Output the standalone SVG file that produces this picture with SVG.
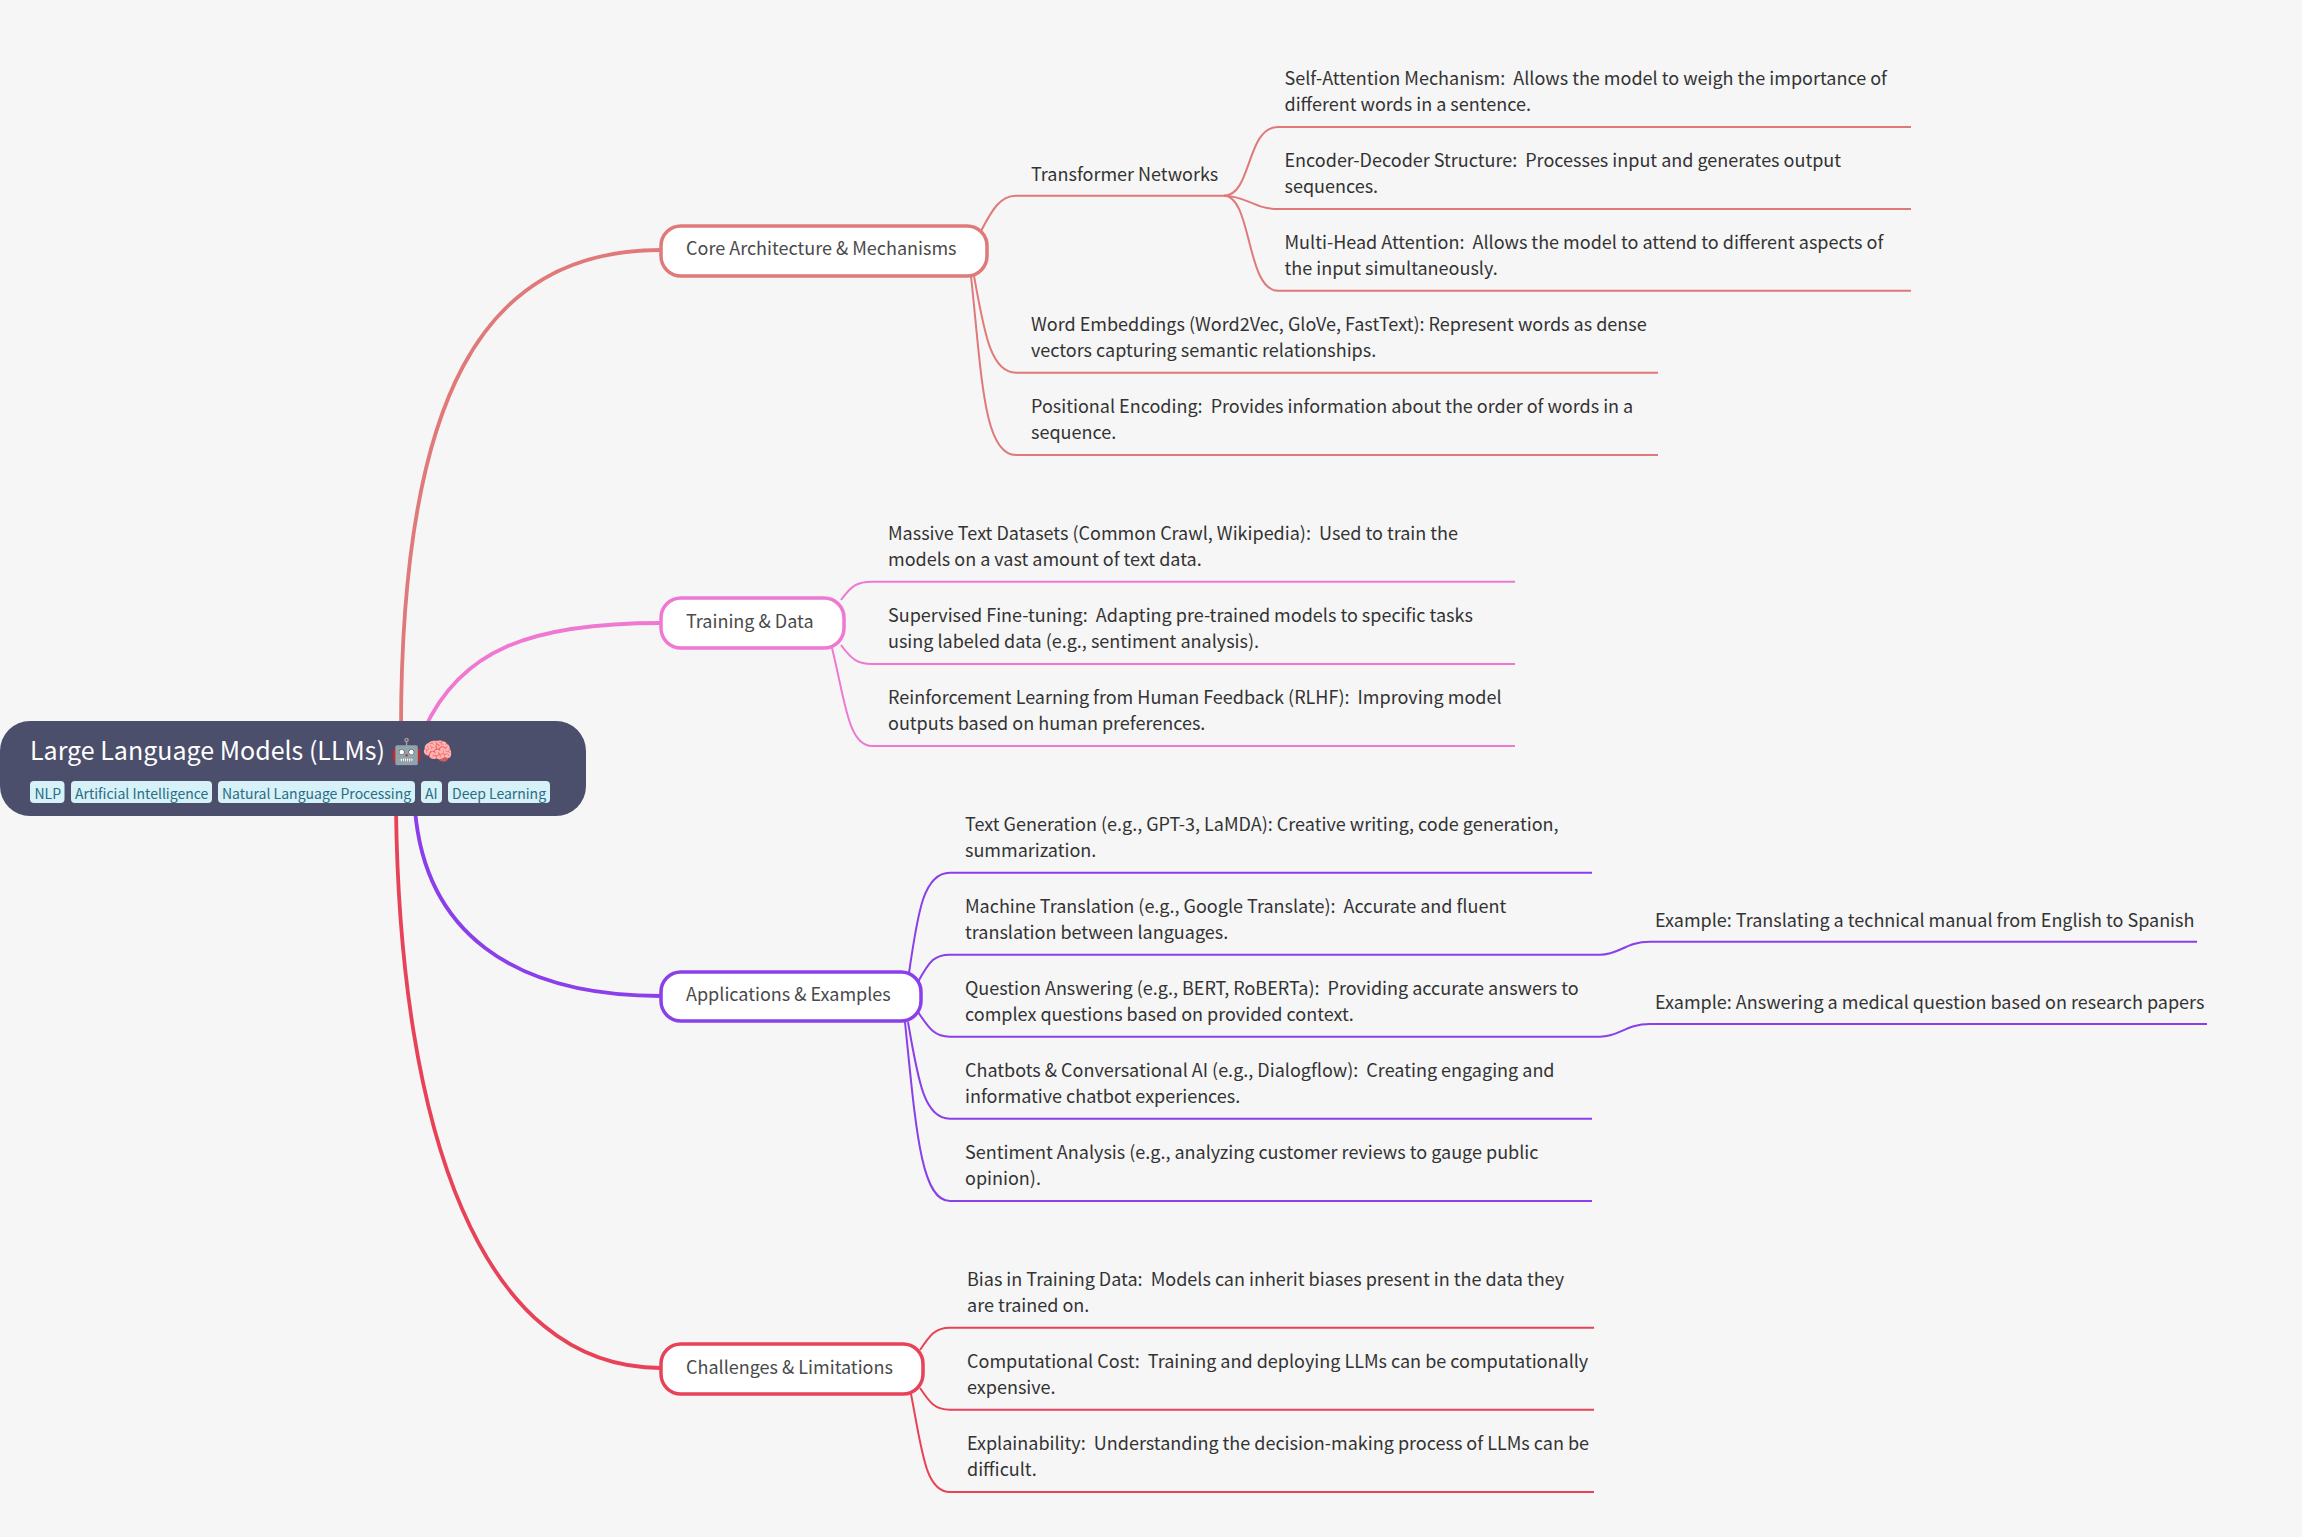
<svg xmlns="http://www.w3.org/2000/svg" width="2302" height="1537" viewBox="0 0 2302 1537">
<style>
text{font-family:"Noto Sans CJK SC","Noto Sans",sans-serif;white-space:pre}
.t{font-size:18px;fill:#333}
.b{font-size:18px;fill:#4a4a4a}
.box{fill:#fff;stroke-width:3.5}
.main{fill:none;stroke-width:3.800;stroke-linecap:round}
.sub{fill:none;stroke-width:2}
.core{stroke:#e07a7a}.train{stroke:#ee78d2}.app{stroke:#8a3fea}.chal{stroke:#e84258}
.tag{fill:#d6f1f7}
.tt{font-size:14px;fill:#2a6d85}
</style>
<rect id="background" width="2302" height="1537" fill="#f6f6f6"/>
<g id="connectors">
<path class="main core" d="M401 730C401 400 480 250 661 250"/>
<path class="main train" d="M424 730C460 650 530 623 661 623"/>
<path class="main app" d="M415 810C425 930 510 996 661 996"/>
<path class="main chal" d="M396 810C400 1130 480 1368 661 1368"/>
<path class="sub core" d="M981 231C992 210 1000 195.7 1016 195.7H1225"/>
<path class="sub core" d="M1224 195.7C1252 195.700 1246 127 1278 127H1911"/>
<path class="sub core" d="M1224 195.700C1246 195.700 1254 209 1278 209H1911"/>
<path class="sub core" d="M1224 195.700C1252 195.700 1246 290.700 1278 290.700H1911"/>
<path class="sub core" d="M974 276C984 330 990 372.700 1016 372.700H1658"/>
<path class="sub core" d="M971 276C982 380 984 455 1016 455H1658"/>
<path class="sub train" d="M841 600C852 585 858 581.700 872 581.700H1515"/>
<path class="sub train" d="M841 645C852 660 858 664 872 664H1515"/>
<path class="sub train" d="M832 648C845 700 848 746 872 746H1515"/>
<path class="sub app" d="M909 973C918 910 924 872.700 950 872.700H1592"/>
<path class="sub app" d="M918 982C930 960 935 954.700 950 954.700H1600C1620 954.700 1625 941.700 1650 941.700H2197"/>
<path class="sub app" d="M918 1012C930 1030 935 1036.700 950 1036.700H1600C1620 1036.700 1625 1024 1650 1024H2207"/>
<path class="sub app" d="M908 1022C918 1080 924 1118.700 950 1118.700H1592"/>
<path class="sub app" d="M905 1022C916 1130 921 1201 950 1201H1592"/>
<path class="sub chal" d="M920 1350C930 1335 935 1327.700 950 1327.700H1594"/>
<path class="sub chal" d="M920 1388C930 1403 935 1409.700 950 1409.700H1594"/>
<path class="sub chal" d="M911 1394C922 1450 925 1492 950 1492H1594"/>
</g>
<g id="root">
<rect x="0" y="721" width="586" height="95" rx="30" fill="#4c4f6b"/>
<text x="30" y="760" font-size="25" fill="#fff">Large Language Models (LLMs) 🤖🧠</text>
<rect class="tag" x="30" y="781" width="34.500" height="22" rx="4"/><text class="tt" x="34.500" y="799">NLP</text>
<rect class="tag" x="71" y="781" width="141" height="22" rx="4"/><text class="tt" x="75" y="799">Artificial Intelligence</text>
<rect class="tag" x="218" y="781" width="197" height="22" rx="4"/><text class="tt" x="222" y="799">Natural Language Processing</text>
<rect class="tag" x="421" y="781" width="21" height="22" rx="4"/><text class="tt" x="425" y="799">AI</text>
<rect class="tag" x="448" y="781" width="102" height="22" rx="4"/><text class="tt" x="452" y="799">Deep Learning</text>
</g>
<g id="core"><rect class="box core" x="661" y="226" width="326" height="50" rx="20"/><text class="b" x="686" y="255">Core Architecture &amp; Mechanisms</text></g>
<g id="transformer"><text class="t" x="1031" y="181">Transformer Networks</text></g>
<g id="self-attention"><text class="t" x="1284.500" y="85">Self-Attention Mechanism:  Allows the model to weigh the importance of</text><text class="t" x="1284.500" y="111">different words in a sentence.</text></g>
<g id="encoder-decoder"><text class="t" x="1284.500" y="167">Encoder-Decoder Structure:  Processes input and generates output</text><text class="t" x="1284.500" y="193">sequences.</text></g>
<g id="multi-head"><text class="t" x="1284.500" y="249">Multi-Head Attention:  Allows the model to attend to different aspects of</text><text class="t" x="1284.500" y="275">the input simultaneously.</text></g>
<g id="word-embeddings"><text class="t" x="1031" y="331">Word Embeddings (Word2Vec, GloVe, FastText): Represent words as dense</text><text class="t" x="1031" y="357">vectors capturing semantic relationships.</text></g>
<g id="positional"><text class="t" x="1031" y="413">Positional Encoding:  Provides information about the order of words in a</text><text class="t" x="1031" y="439">sequence.</text></g>
<g id="training"><rect class="box train" x="661" y="598" width="183" height="50" rx="20"/><text class="b" x="686" y="628">Training &amp; Data</text></g>
<g id="datasets"><text class="t" x="888" y="540">Massive Text Datasets (Common Crawl, Wikipedia):  Used to train the</text><text class="t" x="888" y="566">models on a vast amount of text data.</text></g>
<g id="fine-tuning"><text class="t" x="888" y="622">Supervised Fine-tuning:  Adapting pre-trained models to specific tasks</text><text class="t" x="888" y="648">using labeled data (e.g., sentiment analysis).</text></g>
<g id="rlhf"><text class="t" x="888" y="704">Reinforcement Learning from Human Feedback (RLHF):  Improving model</text><text class="t" x="888" y="730">outputs based on human preferences.</text></g>
<g id="applications"><rect class="box app" x="661" y="972" width="260" height="49" rx="20"/><text class="b" x="686" y="1001">Applications &amp; Examples</text></g>
<g id="text-generation"><text class="t" x="965" y="831">Text Generation (e.g., GPT-3, LaMDA): Creative writing, code generation,</text><text class="t" x="965" y="857">summarization.</text></g>
<g id="translation"><text class="t" x="965" y="913">Machine Translation (e.g., Google Translate):  Accurate and fluent</text><text class="t" x="965" y="939">translation between languages.</text></g>
<g id="qa"><text class="t" x="965" y="995">Question Answering (e.g., BERT, RoBERTa):  Providing accurate answers to</text><text class="t" x="965" y="1021">complex questions based on provided context.</text></g>
<g id="chatbots"><text class="t" x="965" y="1077">Chatbots &amp; Conversational AI (e.g., Dialogflow):  Creating engaging and</text><text class="t" x="965" y="1103">informative chatbot experiences.</text></g>
<g id="sentiment"><text class="t" x="965" y="1159">Sentiment Analysis (e.g., analyzing customer reviews to gauge public</text><text class="t" x="965" y="1185">opinion).</text></g>
<g id="example-translation"><text class="t" x="1655" y="927">Example: Translating a technical manual from English to Spanish</text></g>
<g id="example-qa"><text class="t" x="1655" y="1009">Example: Answering a medical question based on research papers</text></g>
<g id="challenges"><rect class="box chal" x="661" y="1344" width="262" height="50" rx="20"/><text class="b" x="686" y="1374">Challenges &amp; Limitations</text></g>
<g id="bias"><text class="t" x="967" y="1286">Bias in Training Data:  Models can inherit biases present in the data they</text><text class="t" x="967" y="1312">are trained on.</text></g>
<g id="cost"><text class="t" x="967" y="1368">Computational Cost:  Training and deploying LLMs can be computationally</text><text class="t" x="967" y="1394">expensive.</text></g>
<g id="explainability"><text class="t" x="967" y="1450">Explainability:  Understanding the decision-making process of LLMs can be</text><text class="t" x="967" y="1476">difficult.</text></g>
</svg>
